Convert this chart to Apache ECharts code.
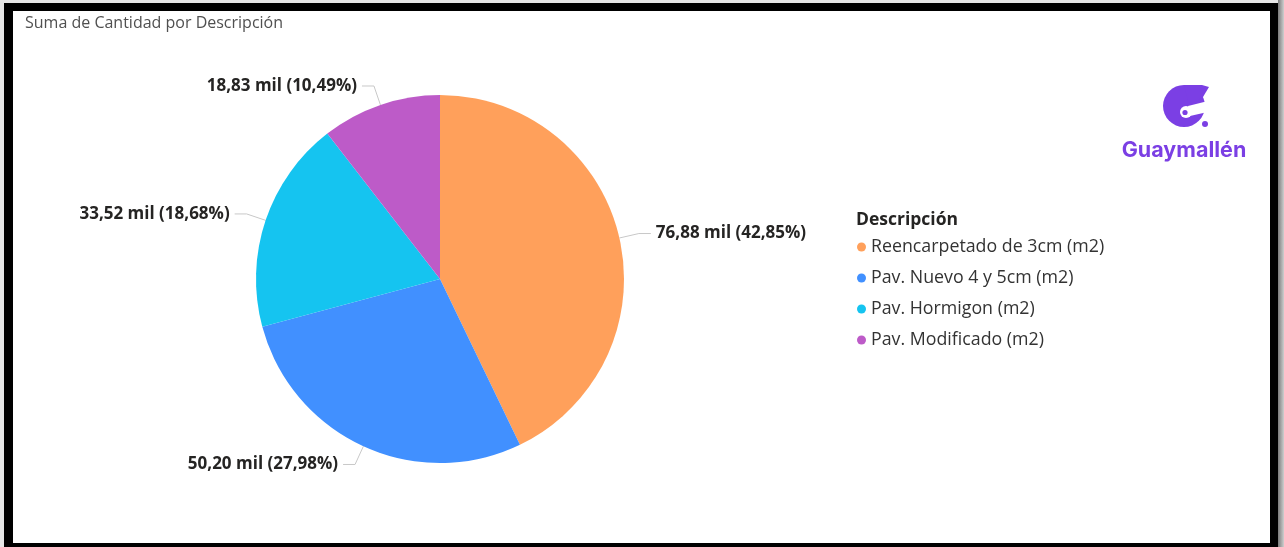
<!DOCTYPE html>
<html>
<head>
<meta charset="utf-8">
<script src="https://cdn.jsdelivr.net/npm/echarts@6/dist/echarts.min.js"></script>
<style>
html,body{margin:0;padding:0;width:1284px;height:547px;overflow:hidden;background:#e6e6e6;}
#frame{position:absolute;left:4px;top:3px;width:1274px;height:544px;box-sizing:border-box;border-style:solid;border-color:#000;border-width:8px 8px 4px 9px;background:#fff;}
#shadow{position:absolute;left:1278px;top:0;width:6px;height:547px;background:linear-gradient(to right,#7a7a7a,#cfcfcf);}
#chart{position:absolute;left:0;top:0;width:1284px;height:547px;}
</style>
</head>
<body>
<div id="shadow"></div>
<div id="frame"></div>
<div id="chart"></div>
<script>
// Data
const categories = ['Reencarpetado de 3cm (m2)', 'Pav. Nuevo 4 y 5cm (m2)', 'Pav. Hormigon (m2)', 'Pav. Modificado (m2)'];
const values = [76880, 50200, 33520, 18830];
const colors = ['#FFA05B', '#4190FF', '#15C4F0', '#BD5BC8'];
const chartTitle = 'Suma de Cantidad por Descripción';
const legendTitle = 'Descripción';
const brand = 'Guaymallén';

const chart = echarts.init(document.getElementById('chart'), null, {renderer: 'canvas'});

function fmt(p) {
  const v = (p.value / 1000).toFixed(2).replace('.', ',');
  const pc = p.percent.toFixed(2).replace('.', ',');
  return v + ' mil (' + pc + '%)';
}

const purple = '#7B3FE4';

const option = {
  backgroundColor: 'transparent',
  animation: false,
  title: {
    text: chartTitle,
    left: 20, top: 10,
    textStyle: {fontFamily: 'Open Sans', fontSize: 16, fontWeight: 'normal', color: '#505050'}
  },
  legend: {
    orient: 'vertical',
    left: 852, top: 232,
    icon: 'circle',
    itemWidth: 9, itemHeight: 9,
    itemGap: 11,
    textStyle: {fontFamily: 'Open Sans', fontSize: 17.8, color: '#333333', lineHeight: 20},
    data: categories
  },
  graphic: [
    {type: 'text', left: 856, top: 211, style: {text: legendTitle, font: 'bold 17.5px "Open Sans"', fill: '#252423'}},
    {type: 'group', children: [
      {type: 'circle', shape: {cx: 1184, cy: 106, r: 21}, style: {fill: purple}},
      {type: 'polygon', shape: {points: [[1184, 85], [1202, 85], [1209, 87], [1203, 97], [1196, 101], [1188, 101]]}, style: {fill: purple}},
      {type: 'polygon', shape: {points: [[1188, 106], [1212, 100], [1212, 111], [1190, 116]]}, style: {fill: '#ffffff'}},
      {type: 'circle', shape: {cx: 1186, cy: 112, r: 6}, style: {fill: '#ffffff'}},
      {type: 'circle', shape: {cx: 1185, cy: 112.5, r: 2.6}, style: {fill: purple}},
      {type: 'circle', shape: {cx: 1205, cy: 124, r: 3}, style: {fill: purple}}
    ]},
    {type: 'text', x: 1184, y: 151, style: {text: brand, font: 'bold 21.5px "Inter"', fill: purple, textAlign: 'center', textVerticalAlign: 'middle'}}
  ],
  series: [{
    type: 'pie',
    center: [440, 279],
    radius: 184,
    startAngle: 90,
    clockwise: true,
    data: categories.map((c, i) => ({name: c, value: values[i], itemStyle: {color: colors[i]}})),
    label: {
      show: true,
      formatter: fmt,
      fontFamily: 'Open Sans',
      fontSize: 17,
      fontWeight: 'bold',
      color: '#252423'
    },
    labelLine: {length: 20, length2: 12, lineStyle: {color: '#c8c8c8', width: 1}},
    emphasis: {disabled: true}
  }]
};
chart.setOption(option);
</script>
</body>
</html>
